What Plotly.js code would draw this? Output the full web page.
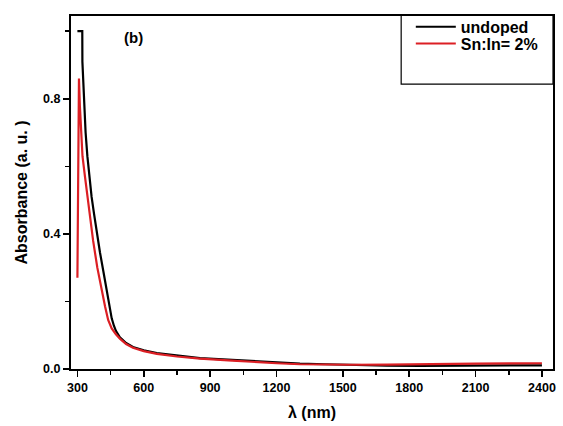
<!DOCTYPE html>
<html><head><meta charset="utf-8">
<script src="https://cdn.plot.ly/plotly-3.0.1.min.js"></script>
<style>html,body{margin:0;padding:0;background:#fff}</style>
</head><body><div id="chart" style="width:563px;height:426px"></div>
<script>
const seriesNames = ['undoped', 'Sn:In= 2%'];
const seriesColors = ['#000000', '#dc1f24'];

const undopedWavelength = [300, 322, 322.5, 330, 337, 345, 352, 364, 375, 387, 402, 417, 432, 445, 455, 465, 474, 492, 520, 551, 600, 659, 750, 854, 1000, 1080, 1200, 1306, 1420, 1532, 1700, 1848, 2000, 2269, 2400];
const undopedAbsorbance = [1.0, 1.0, 0.91, 0.80, 0.70, 0.63, 0.58, 0.51, 0.46, 0.405, 0.345, 0.29, 0.235, 0.185, 0.150, 0.128, 0.113, 0.094, 0.077, 0.065, 0.055, 0.047, 0.039, 0.032, 0.027, 0.024, 0.020, 0.016, 0.014, 0.012, 0.010, 0.009, 0.009, 0.009, 0.011];

const dopedWavelength = [300, 303, 305, 307, 311, 316, 323, 334, 350, 364, 371, 390, 409, 425, 439, 455, 474, 492, 520, 551, 600, 659, 750, 854, 1000, 1080, 1200, 1306, 1420, 1532, 1700, 1848, 2100, 2269, 2400];
const dopedAbsorbance = [0.27, 0.45, 0.62, 0.86, 0.78, 0.70, 0.63, 0.57, 0.48, 0.41, 0.38, 0.30, 0.235, 0.185, 0.145, 0.12, 0.103, 0.09, 0.074, 0.063, 0.053, 0.045, 0.037, 0.031, 0.025, 0.021, 0.017, 0.014, 0.013, 0.0126, 0.013, 0.0145, 0.016, 0.0165, 0.017];

const xTickStart = 300, xTickStep = 300;
const yTickStep = 0.4;
const panelLabel = '(b)';
const xTitle = 'λ (nm)';
const yTitle = 'Absorbance (a. u. )';

const FONT = '"Liberation Sans", Arial, Helvetica, sans-serif';

const traces = [
  {x: undopedWavelength, y: undopedAbsorbance, name: seriesNames[0], type: 'scatter', mode: 'lines',
   line: {color: seriesColors[0], width: 2.2}, legend: 'legend'},
  {x: dopedWavelength, y: dopedAbsorbance, name: seriesNames[1], type: 'scatter', mode: 'lines',
   line: {color: seriesColors[1], width: 2.2}, legend: 'legend2'}
];

const axisCommon = {
  showline: true, linecolor: '#000', linewidth: 2, mirror: true,
  showgrid: false, zeroline: false,
  ticks: 'outside', ticklen: 6, tickwidth: 1.5, tickcolor: '#000',
  tickfont: {family: FONT, size: 12.5, color: '#000', weight: 'bold'}
};

const legendCommon = {
  x: 0.705, xanchor: 'left', yanchor: 'middle',
  bgcolor: 'rgba(0,0,0,0)', borderwidth: 0,
  font: {family: FONT, size: 16, weight: 'bold', color: '#000'},
  itemwidth: 40
};

const layout = {
  width: 563, height: 426,
  margin: {l: 71, r: 10, t: 11, b: 57, pad: 0},
  paper_bgcolor: '#fff', plot_bgcolor: '#fff',
  font: {family: FONT, color: '#000'},
  showlegend: true,
  xaxis: Object.assign({}, axisCommon, {
    range: [271, 2450], tick0: xTickStart, dtick: xTickStep,
    minor: {dtick: xTickStep / 2, ticks: 'outside', ticklen: 4, tickwidth: 1.5, tickcolor: '#000', showgrid: false},
    title: {text: xTitle, font: {family: FONT, size: 16, weight: 'bold', color: '#000'}, standoff: 13}
  }),
  yaxis: Object.assign({}, axisCommon, {
    range: [0, 1.045], tick0: 0, dtick: yTickStep, tickformat: '.1f',
    minor: {dtick: yTickStep / 2, ticks: 'outside', ticklen: 4, tickwidth: 1.5, tickcolor: '#000', showgrid: false},
    title: {text: yTitle, font: {family: FONT, size: 16, weight: 'bold', color: '#000'}, standoff: 12}
  }),
  legend: Object.assign({}, legendCommon, {y: 0.9693}),
  legend2: Object.assign({}, legendCommon, {y: 0.9218}),
  shapes: [
    {type: 'rect', xref: 'paper', yref: 'paper', x0: 0.685, x1: 1.0, y0: 0.807, y1: 1.003,
     line: {color: '#000', width: 1.2}, fillcolor: 'rgba(255,255,255,0)', layer: 'above'}
  ],
  annotations: [
    {text: panelLabel, xref: 'paper', yref: 'paper', x: 0.1307, y: 0.9385, showarrow: false,
     xanchor: 'center', yanchor: 'middle', font: {family: FONT, size: 15, weight: 'bold', color: '#000'}}
  ]
};

Plotly.newPlot('chart', traces, layout, {displayModeBar: false, staticPlot: true});
</script>
</body></html>
